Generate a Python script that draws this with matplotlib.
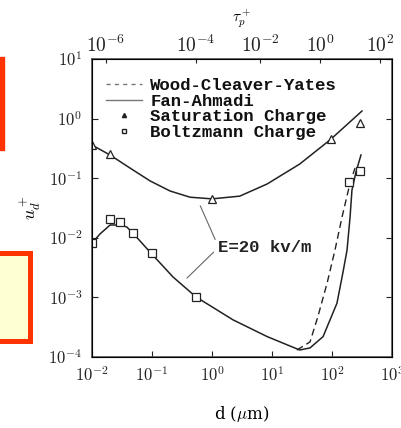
import math

import matplotlib
matplotlib.use("Agg")
import matplotlib.pyplot as plt
from matplotlib.lines import Line2D
from matplotlib.patches import Rectangle
from matplotlib.ticker import FixedLocator, NullLocator

plt.rcParams["mathtext.fontset"] = "cm"
plt.rcParams["font.family"] = "DejaVu Serif"

# Fan-Ahmadi, saturation charge (upper curve)
sat_d = [0.01, 0.02, 0.043, 0.093, 0.2, 0.43, 1.0, 2.9, 8.3, 29, 93, 316]
sat_u = [0.36, 0.245, 0.148, 0.090, 0.061, 0.048, 0.045, 0.050, 0.080, 0.173, 0.44, 1.34]
sat_pts_d = [0.01, 0.02, 1.0, 96, 293]
sat_pts_u = [0.36, 0.25, 0.045, 0.455, 0.84]

# Fan-Ahmadi, Boltzmann charge (lower curve)
bol_d = [0.01, 0.0136, 0.02, 0.029, 0.038, 0.048, 0.1, 0.224, 0.54, 2.24, 8.3, 29,
         43, 71, 121, 152, 178, 200, 215, 251, 304]
bol_u = [0.0082, 0.0116, 0.0164, 0.0164, 0.0152, 0.012, 0.0053, 0.0022, 0.00102,
         0.00042, 0.00022, 0.000131, 0.000142, 0.00022, 0.0008, 0.0026, 0.0062,
         0.0223, 0.063, 0.127, 0.245]
bol_pts_d = [0.01, 0.02, 0.029, 0.048, 0.1, 0.54, 192, 293]
bol_pts_u = [0.0082, 0.0207, 0.0184, 0.012, 0.0056, 0.00102, 0.086, 0.132]

# Wood-Cleaver-Yates (only departs near the right end)
wcy_d = [26, 43, 58, 83, 112, 147, 200, 242]
wcy_u = [0.000131, 0.000179, 0.00047, 0.00175, 0.0062, 0.0223, 0.083, 0.148]

# top axis: tau_p+ decades placed at the matching d values
tau_tick_d = [0.0171, 0.541, 6.31, 63.1, 631]
tau_tick_labels = [r"$10^{-6}$", r"$10^{-4}$", r"$10^{-2}$", r"$10^{0}$", r"$10^{2}$"]

x_ticks = [1e-2, 1e-1, 1e0, 1e1, 1e2, 1e3]
y_ticks = [1e-4, 1e-3, 1e-2, 1e-1, 1e0, 1e1]

fig = plt.figure(figsize=(4.02, 4.28), dpi=100)
ax = fig.add_axes([92 / 402, 71 / 428, 300 / 402, 298 / 428])

ink = "#222222"
ax.plot(sat_d, sat_u, "-", color=ink, lw=1.1)
ax.plot(bol_d, bol_u, "-", color=ink, lw=1.1)
ax.plot(wcy_d, wcy_u, "--", color=ink, lw=1.0, dashes=(5, 3))
ax.plot(sat_pts_d, sat_pts_u, "^", ms=6, mfc="white", mec=ink, mew=0.9)
ax.plot(bol_pts_d, bol_pts_u, "s", ms=6, mfc="white", mec=ink, mew=0.9)

ax.set_xscale("log")
ax.set_yscale("log")
ax.set_xlim(1e-2, 1e3)
ax.set_ylim(1e-4, 1e1)
ax.xaxis.set_major_locator(FixedLocator(x_ticks))
ax.yaxis.set_major_locator(FixedLocator(y_ticks))
ax.xaxis.set_minor_locator(NullLocator())
ax.yaxis.set_minor_locator(NullLocator())
ax.set_xticklabels([r"$10^{%d}$" % round(math.log10(v)) for v in x_ticks])
ax.set_yticklabels([r"$10^{%d}$" % round(math.log10(v)) for v in y_ticks])
ax.tick_params(direction="in", length=4, width=0.8, labelsize=12, colors=ink,
               right=True, top=False, pad=7)
for s in ax.spines.values():
    s.set_color("#555555")
    s.set_linewidth(1.2)

ax.set_xlabel(r"d ($\mu$m)", fontsize=12, labelpad=13)
ax.set_ylabel(r"$u_d^+$", fontsize=13, labelpad=4)

top = ax.twiny()
top.set_xscale("log")
top.set_xlim(ax.get_xlim())
top.xaxis.set_major_locator(FixedLocator(tau_tick_d))
top.xaxis.set_minor_locator(NullLocator())
top.set_xticklabels(tau_tick_labels)
top.tick_params(direction="in", length=3, width=0.8, labelsize=14, colors=ink, pad=2)
top.set_xlabel(r"$\tau_p^+$", fontsize=11, labelpad=10)

# annotation for the field strength
ax.text(1.26, 0.007, "E=20 kv/m", fontsize=12.5, family="Liberation Mono",
        weight="bold", va="center", color=ink)
ax.annotate("", xy=(0.61, 0.038), xytext=(1.18, 0.0085),
            arrowprops=dict(arrowstyle="-", color="#666666", lw=0.8))
ax.annotate("", xy=(0.355, 0.00196), xytext=(1.15, 0.0062),
            arrowprops=dict(arrowstyle="-", color="#666666", lw=0.8))

handles = [
    Line2D([], [], ls="--", color="#777777", lw=1.0, dashes=(3, 3)),
    Line2D([], [], ls="-", color="#777777", lw=1.0),
    Line2D([], [], ls="none", marker="^", ms=3, color=ink),
    Line2D([], [], ls="none", marker="s", ms=3, mfc="white", mec=ink),
]
labels = ["Wood-Cleaver-Yates", "Fan-Ahmadi", "Saturation Charge", "Boltzmann Charge"]
leg = ax.legend(handles, labels, loc="upper left", bbox_to_anchor=(0.0, 0.983),
                frameon=False, handlelength=2.1, handletextpad=0.45, labelspacing=0.02,
                borderaxespad=0.4, prop={"family": "Liberation Mono", "weight": "bold",
                                         "size": 12.5})
for t in leg.get_texts():
    t.set_color("#111111")

# slide decorations on the left edge
fig.patches.append(Rectangle((0, 278 / 428), 4.5 / 402, 93 / 428,
                             transform=fig.transFigure, color="#ff3300", zorder=5))
fig.patches.append(Rectangle((-5 / 402, 87.5 / 428), 35.5 / 402, 88 / 428,
                             transform=fig.transFigure, facecolor="#ffffd4",
                             edgecolor="#ff3300", lw=3.6, zorder=5))

fig.savefig("out.png", dpi=100)
